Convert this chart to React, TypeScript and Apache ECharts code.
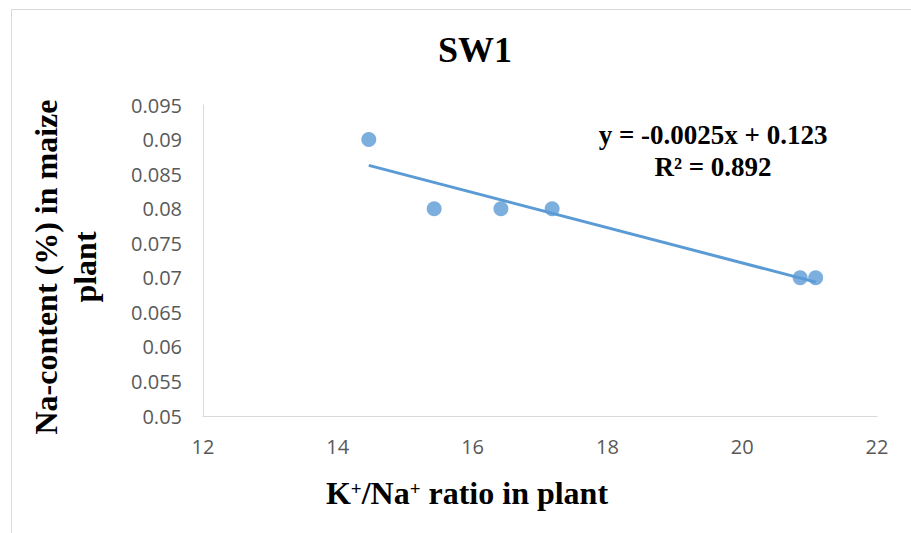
import React, { useEffect, useRef } from "react";
import * as echarts from "echarts";

const xValues = [14.46, 15.43, 16.42, 17.18, 20.86, 21.09];
const yValues = [0.09, 0.08, 0.08, 0.08, 0.07, 0.07];
const titleText = "SW1";
const xAxisTitleParts = [
  ["n", "K"],
  ["s", "+"],
  ["n", "/Na"],
  ["s", "+"],
  ["n", " ratio in plant"],
];
const yAxisTitleLines = ["Na-content (%) in maize", "plant"];
const equationLines = ["y = -0.0025x + 0.123", "R\u00B2 = 0.892"];

function regression(xs: number[], ys: number[]) {
  const n = xs.length;
  const mx = xs.reduce((a, b) => a + b, 0) / n;
  const my = ys.reduce((a, b) => a + b, 0) / n;
  let sxy = 0, sxx = 0;
  for (let i = 0; i < n; i++) {
    sxy += (xs[i] - mx) * (ys[i] - my);
    sxx += (xs[i] - mx) * (xs[i] - mx);
  }
  const slope = sxy / sxx;
  return { slope, intercept: my - slope * mx };
}

export default function App() {
  const ref = useRef<HTMLDivElement>(null);
  useEffect(() => {
    if (!ref.current) return;
    const chart = echarts.init(ref.current, undefined, { renderer: "svg" });
    const { slope, intercept } = regression(xValues, yValues);
    const x0 = Math.min(...xValues);
    const x1 = Math.max(...xValues);
    const trend = [
      [x0, slope * x0 + intercept],
      [x1, slope * x1 + intercept],
    ];
    const serifName = "'Liberation Serif', 'Times New Roman', serif";
    const sans = "'Open Sans', 'Noto Sans', sans-serif";
    chart.setOption({
      animation: false,
      backgroundColor: "#ffffff",
      grid: { left: 203, right: 34, top: 105, bottom: 117, containLabel: false },
      xAxis: {
        type: "value",
        min: 12,
        max: 22,
        interval: 2,
        axisLine: { show: true, lineStyle: { color: "#d9d9d9", width: 1 } },
        axisTick: { show: false },
        splitLine: { show: false },
        axisLabel: { color: "#595959", fontSize: 20, fontFamily: sans, margin: 20 },
      },
      yAxis: {
        type: "value",
        min: 0.05,
        max: 0.095,
        interval: 0.005,
        axisLine: { show: true, lineStyle: { color: "#d9d9d9", width: 1 } },
        axisTick: { show: false },
        splitLine: { show: false },
        axisLabel: {
          color: "#595959",
          fontSize: 20,
          fontFamily: sans,
          margin: 21,
          formatter: (v: number) => String(parseFloat(v.toFixed(3))),
        },
      },
      series: [
        {
          type: "scatter",
          data: xValues.map((x, i) => [x, yValues[i]]),
          symbolSize: 15,
          itemStyle: { color: "#5B9BD5" },
          z: 2,
        },
        {
          type: "line",
          data: trend,
          showSymbol: false,
          symbol: "none",
          lineStyle: { color: "#5B9BD5", width: 3 },
          z: 3,
        },
      ],
      graphic: [
        {
          type: "rect",
          shape: { x: 11.5, y: 9.5, width: 950, height: 600 },
          style: { fill: "none", stroke: "#d9d9d9", lineWidth: 1 },
          silent: true,
        },
        {
          type: "text",
          x: 475,
          y: 50,
          style: {
            text: titleText,
            font: `bold 36px ${serifName}`,
            fill: "#000",
            textAlign: "center",
            textVerticalAlign: "middle",
          },
        },
        {
          type: "text",
          x: 467,
          y: 493,
          style: {
            text: xAxisTitleParts.map(([k, t]) => `{${k}|${t}}`).join(""),
            fill: "#000",
            textAlign: "center",
            textVerticalAlign: "middle",
            rich: {
              n: { fontFamily: serifName, fontWeight: "bold", fontSize: 32, fill: "#000", verticalAlign: "bottom" },
              s: { fontFamily: serifName, fontWeight: "bold", fontSize: 19, fill: "#000", verticalAlign: "top", padding: [2, 0, 0, 0] },
            },
          },
        },
        ...yAxisTitleLines.map((t, i) => ({
          type: "text",
          x: 46 + i * 39,
          y: 267,
          rotation: Math.PI / 2,
          style: {
            text: t,
            font: `bold 32px ${serifName}`,
            fill: "#000",
            textAlign: "center",
            textVerticalAlign: "middle",
          },
        })),
        ...equationLines.map((t, i) => ({
          type: "text",
          x: 713,
          y: 135 + i * 32,
          style: {
            text: t,
            font: `bold 27px ${serifName}`,
            fill: "#000",
            textAlign: "center",
            textVerticalAlign: "middle",
          },
        })),
      ],
    });
    return () => chart.dispose();
  }, []);
  return (
    <div
      ref={ref}
      style={{ position: "fixed", left: 0, top: 0, width: 911, height: 533, background: "#fff" }}
    />
  );
}
